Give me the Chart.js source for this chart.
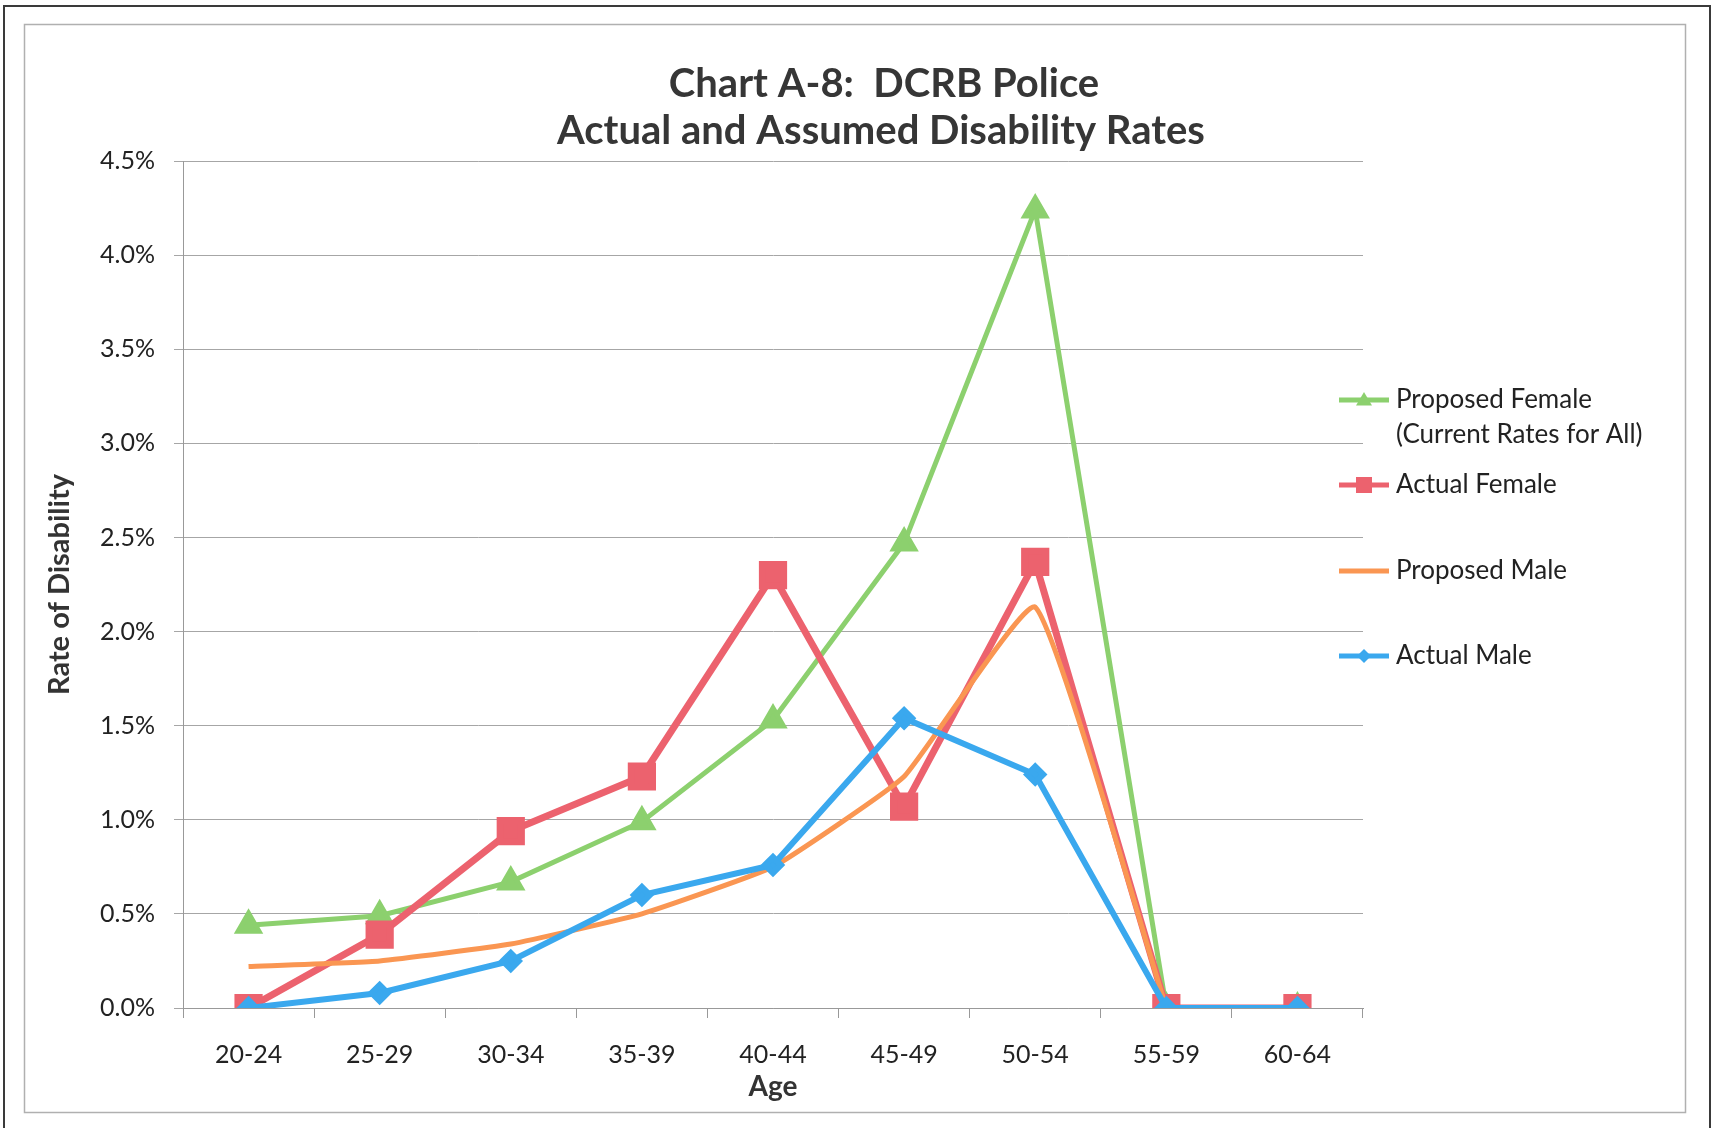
<!DOCTYPE html>
<html>
<head>
<meta charset="utf-8">
<title>Chart A-8: DCRB Police</title>
<script src="https://cdn.jsdelivr.net/npm/chart.js@4.4.1/dist/chart.umd.min.js"></script>
<style>
  html, body { margin: 0; padding: 0; background: #fff; }
  #wrap { width: 1713px; height: 1128px; }
</style>
</head>
<body>
<div id="wrap"><canvas id="chart" width="1713" height="1128"></canvas></div>
<script>
// Age bands and disability rates (in %)
const ageBands = ['20-24', '25-29', '30-34', '35-39', '40-44', '45-49', '50-54', '55-59', '60-64'];
const proposedFemale = [0.44, 0.49, 0.67, 0.99, 1.53, 2.47, 4.24, 0, 0];
const actualFemale = [0, 0.39, 0.94, 1.23, 2.30, 1.07, 2.37, 0, 0];
const proposedMale = [0.22, 0.25, 0.34, 0.50, 0.75, 1.23, 2.13, 0, null];
const actualMale = [0, 0.08, 0.25, 0.60, 0.76, 1.54, 1.24, 0, 0];
const yTicks = [0, 0.5, 1, 1.5, 2, 2.5, 3, 3.5, 4, 4.5];

const titleLines = ['Chart A-8:  DCRB Police', 'Actual and Assumed Disability Rates'];

const GREEN = 'rgb(140, 208, 110)';
const RED = 'rgb(236, 98, 110)';
const ORANGE = 'rgb(250, 150, 82)';
const BLUE = 'rgb(58, 168, 238)';
const FONT = 'Lato, "Open Sans", sans-serif';

const legendItems = [
  { text: ['Proposed Female', '(Current Rates for All)'], color: GREEN, style: 'triangle', y: 400 },
  { text: ['Actual Female'], color: RED, style: 'rect', y: 485 },
  { text: ['Proposed Male'], color: ORANGE, style: null, y: 571 },
  { text: ['Actual Male'], color: BLUE, style: 'diamond', y: 656 }
];

function marker(ctx, style, x, y, s) {
  ctx.beginPath();
  if (style === 'triangle') {
    ctx.moveTo(x, y - s);
    ctx.lineTo(x + s, y + s * 0.7);
    ctx.lineTo(x - s, y + s * 0.7);
  } else if (style === 'rect') {
    ctx.rect(x - s, y - s, 2 * s, 2 * s);
  } else if (style === 'diamond') {
    ctx.moveTo(x, y - s);
    ctx.lineTo(x + s, y);
    ctx.lineTo(x, y + s);
    ctx.lineTo(x - s, y);
  }
  ctx.closePath();
  ctx.fill();
}

// frames, title and the legend on the right
const decor = {
  id: 'decor',
  beforeDraw(chart) {
    const ctx = chart.ctx;
    ctx.save();
    ctx.fillStyle = '#fff';
    ctx.fillRect(0, 0, chart.width, chart.height);
    ctx.strokeStyle = '#3a3a3a';
    ctx.lineWidth = 2;
    ctx.strokeRect(4, 6, 1706, 1140);
    ctx.strokeStyle = '#b0b0b0';
    ctx.lineWidth = 1.5;
    ctx.strokeRect(24.5, 24.5, 1661, 1088);
    ctx.restore();
  },
  afterDraw(chart) {
    const ctx = chart.ctx;
    ctx.save();
    ctx.fillStyle = '#363636';
    ctx.font = 'bold 40px ' + FONT;
    ctx.textAlign = 'center';
    ctx.textBaseline = 'alphabetic';
    ctx.fillText(titleLines[0], 884, 97);
    ctx.fillText(titleLines[1], 881, 144);

    ctx.font = '26px ' + FONT;
    ctx.textAlign = 'left';
    ctx.textBaseline = 'middle';
    legendItems.forEach(item => {
      ctx.strokeStyle = item.color;
      ctx.lineWidth = 5;
      ctx.beginPath();
      ctx.moveTo(1339, item.y);
      ctx.lineTo(1389, item.y);
      ctx.stroke();
      ctx.fillStyle = item.color;
      if (item.style) marker(ctx, item.style, 1364, item.y, item.style === 'diamond' ? 7 : 8);
      ctx.fillStyle = '#222';
      item.text.forEach((t, i) => ctx.fillText(t, 1396, item.y + i * 35));
    });
    ctx.restore();
  }
};

new Chart(document.getElementById('chart'), {
  type: 'line',
  data: {
    labels: ageBands,
    datasets: [
      {
        label: 'Proposed Female (Current Rates for All)',
        data: proposedFemale,
        borderColor: GREEN,
        backgroundColor: GREEN,
        borderWidth: 5,
        pointStyle: 'triangle',
        pointRadius: 12,
        order: 4
      },
      {
        label: 'Actual Female',
        data: actualFemale,
        borderColor: RED,
        backgroundColor: RED,
        borderWidth: 7,
        pointStyle: 'rect',
        pointRadius: 15,
        order: 3
      },
      {
        label: 'Proposed Male',
        data: proposedMale,
        borderColor: ORANGE,
        backgroundColor: ORANGE,
        borderWidth: 5,
        pointRadius: 0,
        tension: 0.12,
        order: 2
      },
      {
        label: 'Actual Male',
        data: actualMale,
        borderColor: BLUE,
        backgroundColor: BLUE,
        borderWidth: 6,
        pointStyle: 'rectRot',
        pointRadius: 8,
        order: 1
      }
    ]
  },
  options: {
    responsive: false,
    animation: false,
    layout: { padding: { left: 25, top: 161, right: 350, bottom: 15 } },
    plugins: {
      legend: { display: false },
      tooltip: { enabled: false }
    },
    scales: {
      x: {
        offset: true,
        grid: { drawOnChartArea: false, offset: true, tickLength: 10, color: '#999' },
        border: { color: '#999' },
        ticks: { color: '#222', font: { family: FONT, size: 25 }, padding: 22, maxRotation: 0 },
        title: { display: true, text: 'Age', color: '#333', font: { family: FONT, size: 28, weight: 'bold' }, padding: { bottom: 9 } },
        afterFit: s => { s.height = 105; }
      },
      y: {
        min: 0,
        max: 4.5,
        afterBuildTicks: s => { s.ticks = yTicks.map(v => ({ value: v })); },
        grid: { color: '#a6a6a6', tickLength: 9 },
        border: { color: '#999' },
        ticks: {
          color: '#222',
          font: { family: FONT, size: 25 },
          padding: 19,
          callback: v => v.toFixed(1) + '%'
        },
        title: { display: true, text: 'Rate of Disability', color: '#333', font: { family: FONT, size: 29, weight: 'bold' }, padding: { top: 17 } },
        afterFit: s => { s.width = 158; }
      }
    }
  },
  plugins: [decor]
});
</script>
</body>
</html>
